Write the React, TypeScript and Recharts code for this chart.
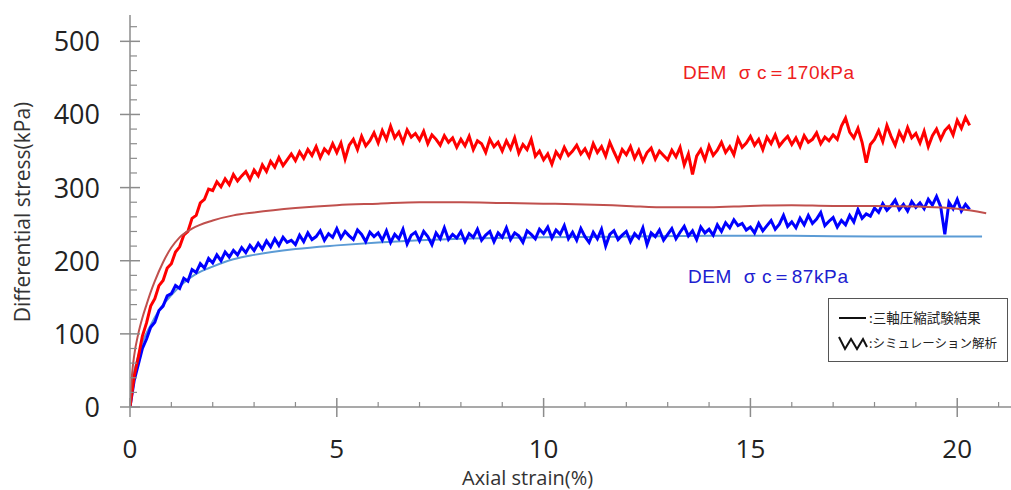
import React from 'react';
import { LineChart, Line, XAxis, YAxis } from 'recharts';

// DEM simulation results, sampled every 0.1 % axial strain starting at 0
const STRAIN_STEP = 0.1;

const demHigh = [
  0, 42, 68, 97, 115, 138, 148, 166, 173, 190,
  196, 212, 219, 235, 240, 258, 262, 279, 284, 298,
  296, 308, 301, 312, 304, 318, 309, 316, 322, 311,
  324, 316, 331, 322, 336, 328, 341, 330, 338, 346,
  337, 349, 340, 352, 344, 356, 341, 353, 347, 360,
  348, 361, 339, 358, 366, 352, 370, 357, 364, 375,
  361, 378, 366, 384, 368, 376, 362, 379, 369, 374,
  365, 377, 360, 372, 366, 358, 371, 362, 368, 355,
  366, 357, 370, 352, 364, 360, 348, 366, 356, 362,
  350, 364, 353, 368, 347, 359, 352, 366, 343, 350,
  338, 346, 332, 349, 341, 355, 344, 350, 358, 346,
  353, 342, 360, 348, 356, 343, 362, 349, 337, 352,
  345, 356, 340, 351, 336, 348, 354, 339, 350, 344,
  338, 351, 342, 355, 331, 346, 318, 343, 352, 338,
  357, 344, 351, 362, 348, 356, 345, 367, 355, 361,
  370, 358, 366, 352, 369, 360, 372, 357, 364, 370,
  359, 368, 356, 371, 362, 366, 375, 360, 369, 364,
  372, 366, 384, 395, 376, 368, 381, 362, 334, 359,
  366, 378, 363, 385, 370, 358, 376, 365, 382, 368,
  374, 361, 377, 356, 371, 380, 366, 378, 384, 372,
  392, 381, 396, 385,
];

const demLow = [
  0, 36, 58, 80, 93, 109, 116, 132, 138, 152,
  155, 166, 162, 176, 172, 188, 184, 196, 190, 203,
  197, 208, 200, 212, 205, 214, 208, 218, 211, 221,
  214, 224, 216, 227, 219, 230, 221, 232, 225, 228,
  222, 235, 226, 238, 229, 233, 241, 228, 237, 232,
  244, 231, 240, 234, 229, 242, 236, 226, 239, 233,
  238, 228, 241, 225, 236, 230, 243, 223, 235, 239,
  227, 240, 233, 222, 238, 230, 245, 229, 236, 231,
  240, 226, 237, 232, 243, 228, 235, 240, 226, 238,
  232, 245, 229, 238, 234, 225, 241, 236, 230, 243,
  237, 246, 231, 242, 236, 248, 230, 239, 228, 244,
  233, 225, 239, 230, 243, 220, 236, 241, 229, 235,
  240, 226, 237, 231, 245, 222, 238, 233, 242, 228,
  236, 244, 230, 239, 247, 234, 241, 229, 246, 238,
  243, 235, 249, 240, 252, 245, 256, 248, 251, 242,
  246, 238, 251, 241, 248, 255, 243, 250, 262, 247,
  253, 245, 258, 249, 262, 251, 257, 266, 248, 254,
  259, 246, 255, 249, 262, 253, 270, 258, 264, 261,
  272, 266, 278, 269, 275, 283, 270, 277, 268, 281,
  273, 279, 271, 284, 276, 288, 274, 236, 280, 271,
  284, 268, 277, 270,
];

// triaxial compression test results
const testHighStrain = [0, 0.05, 0.1, 0.2, 0.3, 0.4, 0.5, 0.6, 0.8, 1.0, 1.2, 1.5, 2.0, 2.5, 3.0, 4.0, 5.0, 6, 7, 8, 9, 10, 11, 12, 13, 14, 15, 16, 17, 18, 19, 20, 20.7];
const testHighStress = [0, 45, 70, 100, 122, 140, 157, 172, 198, 218, 232, 244, 255, 262, 266, 272, 276, 278, 280, 280, 279, 278, 277, 275, 273, 273, 275, 276, 275, 275, 274, 271, 265];

const testLowStrain = [0, 0.05, 0.1, 0.2, 0.3, 0.5, 0.7, 1.0, 1.3, 1.6, 2, 2.5, 3, 4, 5, 6, 7, 8, 10, 12, 14, 16, 18, 20, 20.6];
const testLowStress = [0, 30, 48, 70, 88, 112, 132, 153, 170, 182, 192, 202, 208, 216, 221, 225, 228, 230, 232, 233, 234, 234, 233, 233, 233];

const xTicks = Array.from({ length: 22 }, (_, i) => i);
const yTicks = Array.from({ length: 27 }, (_, i) => i * 20);

const toSteps = (vals: number[]) => vals.map((v, i) => ({ x: +(i * STRAIN_STEP).toFixed(2), y: v }));
const toPairs = (xs: number[], ys: number[]) => xs.map((x, i) => ({ x, y: ys[i] }));

const AXIS = '#8c8c8c';
const FONT = '"Open Sans", "Liberation Sans", sans-serif';

const XTick = (props: any) => {
  const { x, y, payload } = props;
  const major = payload.value % 5 === 0;
  return (
    <g>
      {major ? (
        <line x1={x} x2={x} y1={y - 9} y2={y + 10} stroke={AXIS} strokeWidth={1.5} />
      ) : (
        <line x1={x} x2={x} y1={y - 5} y2={y} stroke={AXIS} strokeWidth={1.2} />
      )}
      {major && (
        <text x={x} y={y + 51} textAnchor="middle" fontSize={26} fill="#222" fontFamily={FONT}>
          {payload.value}
        </text>
      )}
    </g>
  );
};

const YTick = (props: any) => {
  const { x, y, payload } = props;
  const major = payload.value % 100 === 0;
  return (
    <g>
      {major ? (
        <line x1={x - 10} x2={x + 10} y1={y} y2={y} stroke={AXIS} strokeWidth={1.5} />
      ) : (
        <line x1={x} x2={x + 7} y1={y} y2={y} stroke={AXIS} strokeWidth={1.2} />
      )}
      {major && (
        <text x={x - 30} y={y + 10} textAnchor="end" fontSize={27} fill="#222" fontFamily={FONT}>
          {payload.value}
        </text>
      )}
    </g>
  );
};

const App: React.FC = () => {
  return (
    <div style={{ position: 'absolute', left: 0, top: 0, width: 1011, height: 490, background: '#fff' }}>
      <LineChart width={1011} height={490} margin={{ top: 15, right: 0, bottom: 23, left: 30 }}>
        <XAxis
          type="number"
          dataKey="x"
          domain={[0, 21.3]}
          ticks={xTicks}
          interval={0}
          allowDataOverflow
          stroke={AXIS}
          strokeWidth={1.5}
          tickSize={0}
          tickMargin={0}
          tick={<XTick />}
          height={60}
        />
        <YAxis
          type="number"
          dataKey="y"
          domain={[0, 536]}
          ticks={yTicks}
          interval={0}
          allowDataOverflow
          stroke={AXIS}
          strokeWidth={1.5}
          tickSize={0}
          tickMargin={0}
          tick={<YTick />}
          width={100}
        />
        <Line data={toPairs(testLowStrain, testLowStress)} dataKey="y" type="monotone" stroke="#5b9bd5" strokeWidth={2} dot={false} isAnimationActive={false} />
        <Line data={toSteps(demLow)} dataKey="y" type="linear" stroke="#0000ff" strokeWidth={3} dot={false} isAnimationActive={false} />
        <Line data={toSteps(demHigh)} dataKey="y" type="linear" stroke="#ff0000" strokeWidth={3} dot={false} isAnimationActive={false} />
        <Line data={toPairs(testHighStrain, testHighStress)} dataKey="y" type="monotone" stroke="#c0504d" strokeWidth={2} dot={false} isAnimationActive={false} />
      </LineChart>

      <div style={{ position: 'absolute', left: 22, top: 212, transform: 'translate(-50%, -50%) rotate(-90deg)', whiteSpace: 'nowrap', fontFamily: FONT, fontSize: 21, color: '#333' }}>
        Differential stress(kPa)
      </div>
      <div style={{ position: 'absolute', left: 462, top: 464, whiteSpace: 'nowrap', fontFamily: FONT, fontSize: 20, color: '#333' }}>
        Axial strain(%)
      </div>

      <div style={{ position: 'absolute', left: 683, top: 60, whiteSpace: 'nowrap', fontFamily: '"Liberation Sans", sans-serif', fontSize: 19, letterSpacing: 0.6, color: '#ee2020' }}>
        DEM&nbsp; σ c＝170kPa
      </div>
      <div style={{ position: 'absolute', left: 688, top: 264, whiteSpace: 'nowrap', fontFamily: '"Liberation Sans", sans-serif', fontSize: 19, letterSpacing: 0.6, color: '#2020d0' }}>
        DEM&nbsp; σ c＝87kPa
      </div>

      <div style={{ position: 'absolute', left: 828, top: 298, width: 180, height: 64, border: '1px solid #555', boxSizing: 'border-box', background: '#fff', fontFamily: '"Noto Sans CJK JP", sans-serif', fontSize: 13.5, color: '#222' }}>
        <svg width={36} height={60} style={{ position: 'absolute', left: 6, top: 0 }}>
          <line x1={4} x2={31} y1={19} y2={19} stroke="#111" strokeWidth={2} />
          <polyline points="4,38 10,50 16,40 22,50 28,40 32,48" fill="none" stroke="#111" strokeWidth={2} />
        </svg>
        <div style={{ position: 'absolute', left: 40, top: 8, whiteSpace: 'nowrap' }}>:三軸圧縮試験結果</div>
        <div style={{ position: 'absolute', left: 40, top: 34, whiteSpace: 'nowrap', fontSize: 12.5 }}>:シミュレーション解析</div>
      </div>
    </div>
  );
};

export default App;
